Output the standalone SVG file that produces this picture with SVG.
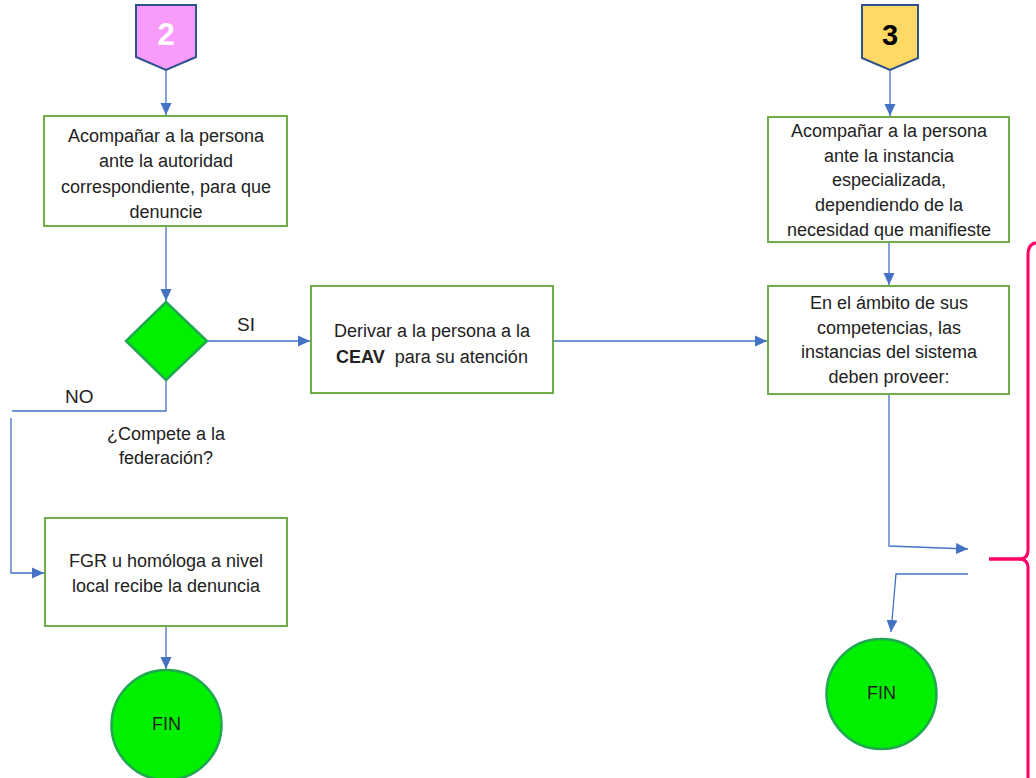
<svg xmlns="http://www.w3.org/2000/svg" width="1036" height="778" viewBox="0 0 1036 778">
<defs>
<style>
.box{fill:#fff;stroke:#70AD47;stroke-width:2}
.t{font-family:"Liberation Sans",Arial,sans-serif;font-size:18px;fill:#222;text-anchor:middle}
.lbl{font-family:"Liberation Sans",Arial,sans-serif;font-size:19px;fill:#222}
.c{fill:none;stroke:#4472C4;stroke-width:1.3}
.fin{fill:#00F000;stroke:#1FA84F;stroke-width:2.5}
</style>
<marker id="ah" markerUnits="userSpaceOnUse" markerWidth="13" markerHeight="13" viewBox="0 0 13 13" refX="12" refY="6.5" orient="auto">
<path d="M0,1 L12,6.5 L0,12 Z" fill="#4472C4"/>
</marker>
</defs>
<rect width="1036" height="778" fill="#fff"/>
<g id="connectors">
<path class="c" d="M166,70 V115" marker-end="url(#ah)"/>
<path class="c" d="M166,226 V301" marker-end="url(#ah)"/>
<path class="c" d="M207,341 H310" marker-end="url(#ah)"/>
<path class="c" d="M166,380 V411 H12"/>
<path class="c" d="M11,418 V573 H44" marker-end="url(#ah)"/>
<path class="c" d="M166,626 V669" marker-end="url(#ah)"/>
<path class="c" d="M553,341 H767" marker-end="url(#ah)"/>
<path class="c" d="M890,70 V116" marker-end="url(#ah)"/>
<path class="c" d="M889,242 V285" marker-end="url(#ah)"/>
<path class="c" d="M889,394 V546 L968,549" marker-end="url(#ah)"/>
<path class="c" d="M968,574 H896 L891,632" marker-end="url(#ah)"/>
</g>
<g id="conn-labels">
<text class="lbl" x="237" y="331">SI</text>
<text class="lbl" x="65" y="403">NO</text>
</g>
<g id="start2">
<path d="M136,5 H196 V57 L166,70 L136,57 Z" fill="#F99CF9" stroke="#2F528F" stroke-width="2"/>
<text x="166" y="45" text-anchor="middle" font-family="'Liberation Sans',Arial,sans-serif" font-size="31" font-weight="bold" fill="#fff">2</text>
</g>
<g id="start3">
<path d="M862,5 H918 V58 L890,70 L862,58 Z" fill="#FFD966" stroke="#2F528F" stroke-width="2"/>
<text x="890" y="45" text-anchor="middle" font-family="'Liberation Sans',Arial,sans-serif" font-size="29" font-weight="bold" fill="#000">3</text>
</g>
<g id="acompanar-autoridad">
<rect class="box" x="44" y="116" width="243" height="110"/>
<text class="t" x="166" y="142">Acompañar a la persona</text>
<text class="t" x="166" y="167">ante la autoridad</text>
<text class="t" x="166" y="193">correspondiente, para que</text>
<text class="t" x="166" y="218">denuncie</text>
</g>
<g id="decision">
<path d="M166,302 L207,341 L166,380 L126,341 Z" fill="#00F000" stroke="#1FA84F" stroke-width="2.5"/>
<text class="t" x="166" y="440">¿Compete a la</text>
<text class="t" x="166" y="464">federación?</text>
</g>
<g id="derivar">
<rect class="box" x="311" y="286" width="242" height="107"/>
<text class="t" x="432" y="337">Derivar a la persona a la</text>
<text class="t" x="432" y="363"><tspan font-weight="bold">CEAV</tspan><tspan dx="5"> para su atención</tspan></text>
</g>
<g id="fgr">
<rect class="box" x="45" y="518" width="242" height="108"/>
<text class="t" x="166" y="567">FGR u homóloga a nivel</text>
<text class="t" x="166" y="592">local recibe la denuncia</text>
</g>
<g id="fin-left">
<circle class="fin" cx="166.5" cy="725" r="55"/>
<text class="t" x="166.5" y="730">FIN</text>
</g>
<g id="acompanar-instancia">
<rect class="box" x="768" y="117" width="241" height="125"/>
<text class="t" x="889" y="137">Acompañar a la persona</text>
<text class="t" x="889" y="162">ante la instancia</text>
<text class="t" x="889" y="186">especializada,</text>
<text class="t" x="889" y="211">dependiendo de la</text>
<text class="t" x="889" y="236">necesidad que manifieste</text>
</g>
<g id="ambito">
<rect class="box" x="768" y="286" width="241" height="108"/>
<text class="t" x="889" y="309">En el ámbito de sus</text>
<text class="t" x="889" y="334">competencias, las</text>
<text class="t" x="889" y="358">instancias del sistema</text>
<text class="t" x="889" y="383">deben proveer:</text>
</g>
<g id="fin-right">
<circle class="fin" cx="881.5" cy="694" r="55"/>
<text class="t" x="881.5" y="699">FIN</text>
</g>
<g id="brace">
<path d="M1037,243 Q1028,243 1028,255 V550 Q1028,559 1019,559 Q1028,559 1028,568 V790" fill="none" stroke="#FF0066" stroke-width="3"/>
<path d="M989,559 H1020" fill="none" stroke="#FF0066" stroke-width="3.5"/>
</g>
</svg>
